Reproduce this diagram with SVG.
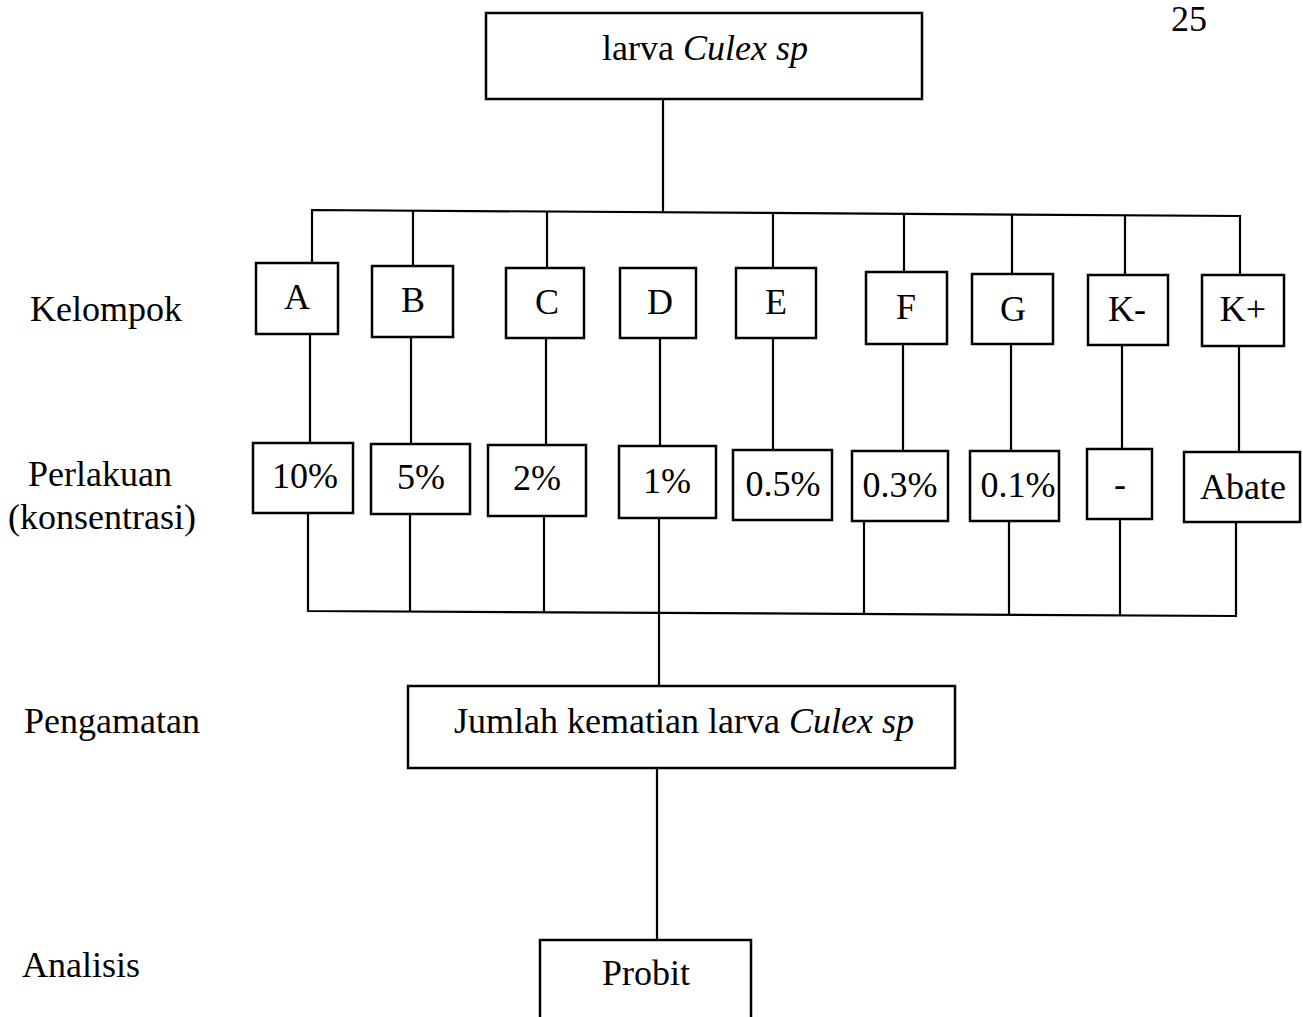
<svg xmlns="http://www.w3.org/2000/svg" width="1303" height="1017" viewBox="0 0 1303 1017">
<style>
  .box { fill: #ffffff; stroke: #000000; stroke-width: 2.5; }
  .t { font-family: "Liberation Serif", "Times New Roman", serif; font-size: 36px; fill: #000000; }
  .c { text-anchor: middle; }
  .i { font-style: italic; }
  .ln { fill: none; stroke: #000000; stroke-width: 2.2; }
</style>
<rect width="1303" height="1017" fill="#ffffff"/>

<text class="t c" x="1189" y="31" font-size="28">25</text>

<g id="labels">
  <text class="t" x="30" y="321">Kelompok</text>
  <text class="t" x="28" y="486">Perlakuan</text>
  <text class="t" x="8" y="529">(konsentrasi)</text>
  <text class="t" x="24" y="733">Pengamatan</text>
  <text class="t" x="22" y="977">Analisis</text>
</g>

<g id="connectors">
  <path class="ln" d="M663 99 V211"/>
  <path class="ln" d="M312 263 V210 L1240 216 V275"/>
  <path class="ln" d="M413 211 V266"/>
  <path class="ln" d="M547 212 V268"/>
  <path class="ln" d="M773 213 V268"/>
  <path class="ln" d="M904 214 V272"/>
  <path class="ln" d="M1012 215 V274"/>
  <path class="ln" d="M1125 215 V275"/>

  <path class="ln" d="M310 334 V443"/>
  <path class="ln" d="M411 337 V444"/>
  <path class="ln" d="M546 338 V445"/>
  <path class="ln" d="M660 338 V446"/>
  <path class="ln" d="M773 338 V450"/>
  <path class="ln" d="M903 344 V451"/>
  <path class="ln" d="M1011 344 V451"/>
  <path class="ln" d="M1122 345 V449"/>
  <path class="ln" d="M1239 346 V452"/>

  <path class="ln" d="M308 513 V611 L1236 616 V522"/>
  <path class="ln" d="M410 514 V612"/>
  <path class="ln" d="M544 516 V613"/>
  <path class="ln" d="M864 521 V614"/>
  <path class="ln" d="M1009 521 V615"/>
  <path class="ln" d="M1120 519 V615"/>
  <path class="ln" d="M659 518 V686"/>

  <path class="ln" d="M657 768 V940"/>
</g>

<g id="node-larva">
  <rect class="box" x="486" y="13" width="436" height="86"/>
  <text class="t c" x="705" y="60">larva <tspan class="i">Culex sp</tspan></text>
</g>

<g id="node-A"><rect class="box" x="256" y="263" width="82" height="71"/><text class="t c" x="297" y="309">A</text></g>
<g id="node-B"><rect class="box" x="372" y="266" width="81" height="71"/><text class="t c" x="413" y="312">B</text></g>
<g id="node-C"><rect class="box" x="506" y="268" width="78" height="70"/><text class="t c" x="547" y="314">C</text></g>
<g id="node-D"><rect class="box" x="620" y="268" width="76" height="70"/><text class="t c" x="660" y="314">D</text></g>
<g id="node-E"><rect class="box" x="736" y="268" width="80" height="70"/><text class="t c" x="776" y="314">E</text></g>
<g id="node-F"><rect class="box" x="866" y="272" width="81" height="72"/><text class="t c" x="906" y="319">F</text></g>
<g id="node-G"><rect class="box" x="972" y="274" width="81" height="70"/><text class="t c" x="1013" y="321">G</text></g>
<g id="node-Kminus"><rect class="box" x="1088" y="275" width="80" height="70"/><text class="t c" x="1127" y="321">K-</text></g>
<g id="node-Kplus"><rect class="box" x="1202" y="275" width="82" height="71"/><text class="t c" x="1243" y="321">K+</text></g>

<g id="node-10"><rect class="box" x="253" y="443" width="100" height="70"/><text class="t c" x="305" y="488">10%</text></g>
<g id="node-5"><rect class="box" x="371" y="444" width="99" height="70"/><text class="t c" x="421" y="489">5%</text></g>
<g id="node-2"><rect class="box" x="488" y="445" width="98" height="71"/><text class="t c" x="537" y="490">2%</text></g>
<g id="node-1"><rect class="box" x="619" y="446" width="97" height="72"/><text class="t c" x="667" y="493">1%</text></g>
<g id="node-05"><rect class="box" x="733" y="450" width="99" height="70"/><text class="t c" x="783" y="496">0.5%</text></g>
<g id="node-03"><rect class="box" x="852" y="451" width="96" height="70"/><text class="t c" x="900" y="497">0.3%</text></g>
<g id="node-01"><rect class="box" x="970" y="451" width="89" height="70"/><text class="t c" x="1018" y="497">0.1%</text></g>
<g id="node-none"><rect class="box" x="1087" y="449" width="65" height="70"/><text class="t c" x="1120" y="496">-</text></g>
<g id="node-abate"><rect class="box" x="1184" y="452" width="116" height="70"/><text class="t c" x="1243" y="499">Abate</text></g>

<g id="node-jumlah">
  <rect class="box" x="408" y="686" width="547" height="82"/>
  <text class="t c" x="684" y="733">Jumlah kematian larva <tspan class="i">Culex sp</tspan></text>
</g>

<g id="node-probit">
  <path class="box" d="M540 1020 V940 H751 V1020"/>
  <text class="t c" x="646" y="985">Probit</text>
</g>
</svg>
